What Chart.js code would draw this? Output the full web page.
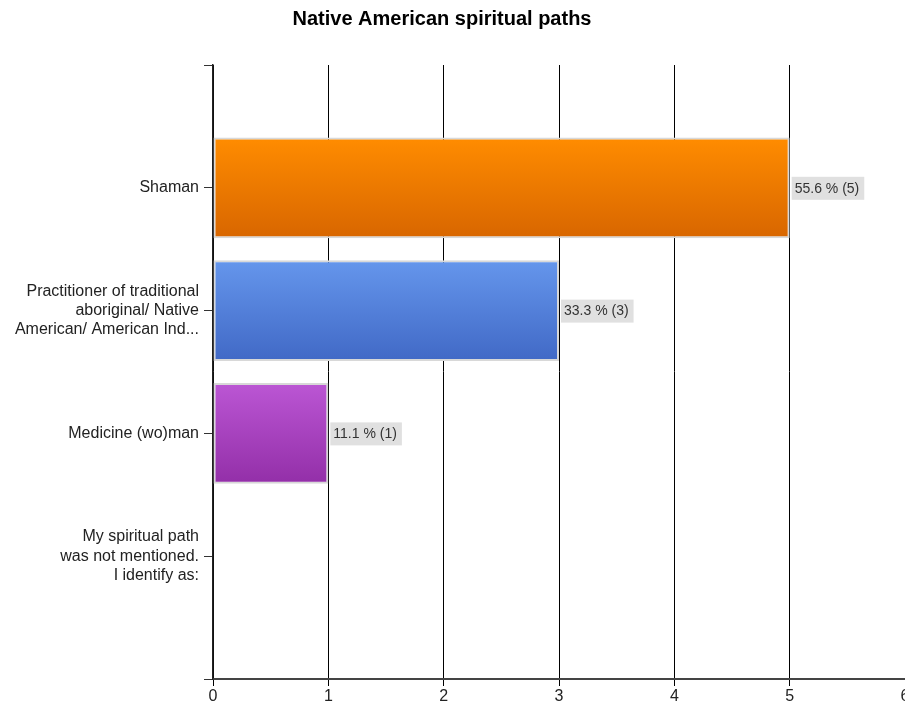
<!DOCTYPE html>
<html>
<head>
<meta charset="utf-8">
<title>Native American spiritual paths</title>
<script src="https://cdn.jsdelivr.net/npm/chart.js@4.4.1/dist/chart.umd.min.js"></script>
<style>
  html, body { margin: 0; padding: 0; background: #fff; }
  #wrap { width: 905px; height: 708px; position: relative; }
</style>
</head>
<body>
<div id="wrap"><canvas id="pathChart"></canvas></div>
<script>
const chartTitle = "Native American spiritual paths";
const categories = [
  "Shaman",
  ["Practitioner of traditional", "aboriginal/ Native", "American/ American Ind..."],
  "Medicine (wo)man",
  ["My spiritual path", "was not mentioned.", "I identify as:"],
];
const counts = [5, 3, 1, 0];
const percents = [55.6, 33.3, 11.1, 0];
const xTicks = [0, 1, 2, 3, 4, 5, 6];
const topColors = ["#ff8c00", "#6596ec", "#bb56d4", "#4caf50"];
const bottomColors = ["#d86600", "#4169c6", "#932fa8", "#2e7d32"];

// empty slots above and below so the bars sit at 1..4 on a 0..5 axis
const labels = [""].concat(categories, [""]);
const values = [null].concat(counts, [null]);

const fontFamily = "'Liberation Sans', Arial, sans-serif";

function barGradient(ctx) {
  const chart = ctx.chart;
  const i = ctx.dataIndex - 1;
  if (!chart.chartArea || i < 0 || i >= counts.length) return topColors[0];
  const mid = chart.scales.y.getPixelForValue(ctx.dataIndex);
  const g = chart.ctx.createLinearGradient(0, mid - 50, 0, mid + 50);
  g.addColorStop(0, topColors[i]);
  g.addColorStop(1, bottomColors[i]);
  return g;
}

// title drawn by hand so it can sit a little left of the canvas centre
const titleText = {
  id: "titleText",
  afterDraw(chart) {
    const c = chart.ctx;
    c.save();
    c.font = "bold 20px " + fontFamily;
    c.fillStyle = "#000";
    c.textAlign = "center";
    c.textBaseline = "middle";
    c.fillText(chartTitle, 442, 19);
    c.restore();
  },
};

const valueLabels = {
  id: "valueLabels",
  afterDatasetsDraw(chart) {
    const c = chart.ctx;
    const xScale = chart.scales.x;
    const yScale = chart.scales.y;
    c.save();
    c.font = "14px " + fontFamily;
    c.textBaseline = "middle";
    counts.forEach((v, i) => {
      if (!v) return;
      const text = percents[i].toFixed(1) + " % (" + v + ")";
      const x = xScale.getPixelForValue(v) + 2;
      const y = yScale.getPixelForValue(i + 1);
      const w = c.measureText(text).width + 8;
      c.fillStyle = "#e0e0e0";
      c.fillRect(x, y - 11, w, 23);
      c.fillStyle = "#333";
      c.fillText(text, x + 3, y + 1);
    });
    c.restore();
  },
};

new Chart(document.getElementById("pathChart"), {
  type: "bar",
  data: {
    labels: labels,
    datasets: [
      {
        data: values,
        backgroundColor: barGradient,
        borderColor: "#d8d8d8",
        borderWidth: 2,
        borderSkipped: false,
        barPercentage: 0.82,
        categoryPercentage: 1,
      },
    ],
  },
  options: {
    indexAxis: "y",
    responsive: true,
    maintainAspectRatio: false,
    animation: false,
    layout: { padding: { left: 0, right: -4, top: 65, bottom: 0 } },
    plugins: {
      legend: { display: false },
      tooltip: { enabled: false },
      title: { display: false },
    },
    scales: {
      x: {
        min: 0,
        max: 6,
        afterBuildTicks(scale) {
          scale.ticks = xTicks.map((v) => ({ value: v }));
        },
        afterFit(scale) {
          scale.height = 29;
          scale.paddingLeft = 0;
          scale.paddingRight = 0;
        },
        grid: {
          color: "#000",
          lineWidth: 1,
          tickLength: 7,
        },
        border: { display: true, color: "#444", width: 2 },
        ticks: {
          color: "#222",
          padding: 1,
          maxRotation: 0,
          font: { family: fontFamily, size: 16 },
        },
      },
      y: {
        offset: false,
        afterFit(scale) {
          scale.width = 213;
        },
        grid: {
          offset: false,
          drawOnChartArea: false,
          color: "#333",
          tickLength: 9,
        },
        border: { display: true, color: "#222", width: 1.5 },
        ticks: {
          color: "#222",
          padding: 5,
          autoSkip: false,
          font: { family: fontFamily, size: 16, lineHeight: 1.2 },
        },
      },
    },
  },
  plugins: [valueLabels, titleText],
});
</script>
</body>
</html>
